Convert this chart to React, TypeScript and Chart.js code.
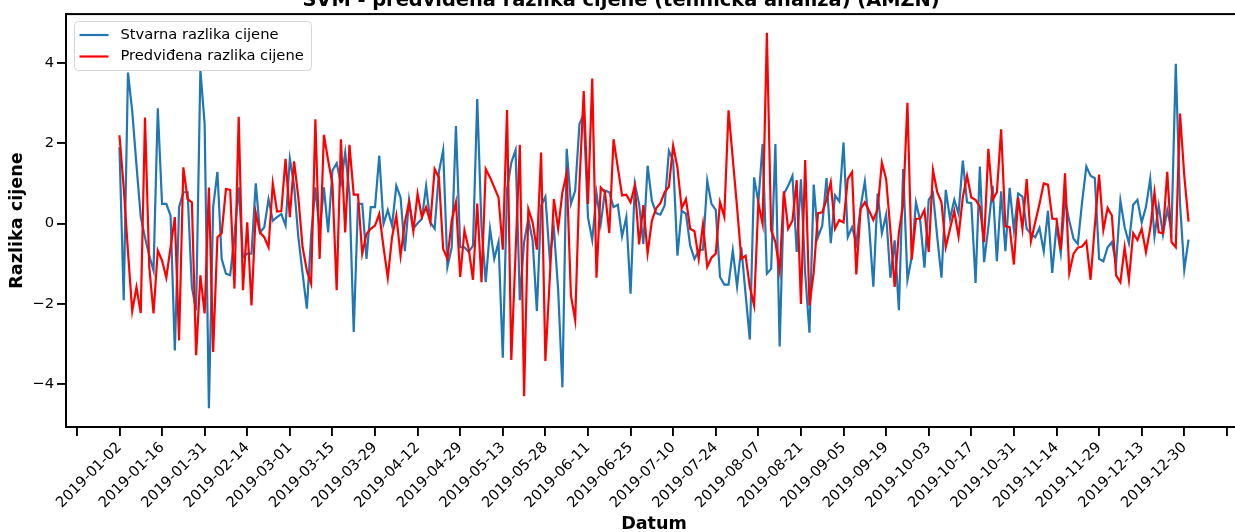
import React, { useEffect, useRef } from 'react';
import { Chart, registerables } from 'chart.js';

Chart.register(...registerables);

const titleText = 'SVM - predviđena razlika cijene (tehnička analiza) (AMZN)';
const xAxisTitle = 'Datum';
const yAxisTitle = 'Razlika cijene';
const actualLabel = 'Stvarna razlika cijene';
const predictedLabel = 'Predviđena razlika cijene';

const xTickPositions = [-10, 0, 10, 20, 30, 40, 50, 60, 70, 80, 90, 100, 110, 120, 130, 140, 150, 160, 170, 180, 190, 200, 210, 220, 230, 240, 250, 260];
const xTickLabels = [
  '2019-01-02', '2019-01-16', '2019-01-31', '2019-02-14', '2019-03-01', '2019-03-15',
  '2019-03-29', '2019-04-12', '2019-04-29', '2019-05-13', '2019-05-28', '2019-06-11',
  '2019-06-25', '2019-07-10', '2019-07-24', '2019-08-07', '2019-08-21', '2019-09-05',
  '2019-09-19', '2019-10-03', '2019-10-17', '2019-10-31', '2019-11-14', '2019-11-29',
  '2019-12-13', '2019-12-30',
];
const yTickValues = [-4, -2, 0, 2, 4];

const actualValues = [
  1.90, -1.91, 3.76, 2.80, 1.45, 0.16, -0.35, -0.80, -1.17, 2.87,
  0.49, 0.49, 0.20, -3.16, 0.41, 0.78, 0.78, -1.58, -2.16, 3.82,
  2.48, -4.60, 0.41, 1.29, -0.88, -1.25, -1.29, -0.30, 0.90, -0.84,
  -0.75, -0.75, 1.00, -0.22, -0.09, 0.61, 0.07, 0.16, 0.24, -0.05,
  1.61, 0.95, -0.34, -1.25, -2.12, -0.30, 0.90, -0.20, 0.90, -0.22,
  1.32, 1.50, 0.99, 1.77, 0.74, -2.70, 0.49, 0.49, -0.88, 0.41,
  0.41, 1.69, -0.01, 0.34, -0.05, 0.94, 0.65, -0.69, 0.59, -0.13,
  0.01, 0.12, 0.93, 0.03, -0.13, 1.28, 1.83, -1.08, -0.60, 2.43,
  -0.59, -0.59, -0.71, -0.55, 3.10, -0.09, -1.46, -0.13, -0.88, -0.46,
  -3.34, 0.86, 1.52, 1.83, -1.91, -0.46, 0.12, -0.42, -2.18, 0.45,
  0.67, -0.84, -0.13, -1.66, -4.08, 1.86, 0.49, 0.82, 2.48, 2.72,
  0.16, -0.41, 0.75, -0.01, 0.82, 0.78, 0.41, 0.47, -0.32, 0.16,
  -1.75, 0.99, 0.49, -0.51, 1.44, 0.57, 0.26, 0.22, 0.45, 1.81,
  1.57, -0.80, 0.32, 0.24, -0.55, -0.88, -0.67, -0.65, 1.07, 0.49,
  0.34, -1.33, -1.52, -1.52, -0.67, -1.57, -0.59, -1.75, -2.89, 1.15,
  0.53, 1.98, -1.25, -1.13, 1.98, -3.06, 0.74, 0.94, 1.19, -0.71,
  1.10, -1.25, -2.72, 0.97, -0.34, -0.05, 1.13, -0.49, 0.70, 0.55,
  2.02, -0.34, -0.09, -0.50, 0.41, 1.05, -0.05, -1.57, 0.75, -0.24,
  0.22, -1.35, -0.42, -2.16, 1.36, -1.40, -0.84, 0.53, 0.07, -1.10,
  0.59, 0.75, -0.34, -1.35, 0.84, 0.12, 0.59, 0.24, 1.57, 0.53,
  0.51, -1.48, 1.42, -0.96, -0.09, 0.94, -0.94, 0.80, -0.69, 0.89,
  -0.16, 0.75, 0.67, -0.13, -0.26, -0.34, -0.11, -0.69, 0.32, -1.23,
  -0.05, -0.74, 0.59, 0.07, -0.38, -0.51, 0.53, 1.42, 1.19, 1.13,
  -0.88, -0.94, -0.59, -0.46, -0.99, 0.57, -0.09, -0.49, 0.47, 0.59,
  0.03, 0.41, 1.11, -0.32, 0.45, -0.28, 0.34, -0.17, 3.98, 0.49,
  -1.15, -0.40,
];

const predictedValues = [
  2.20, 0.90, -0.70, -2.18, -1.58, -2.23, 2.64, -1.08, -2.24, -0.67,
  -0.92, -1.35, -0.59, 0.16, -2.91, 1.40, 0.61, 0.53, -3.28, -1.29,
  -2.24, 0.90, -3.20, -0.34, -0.24, 0.86, 0.84, -1.62, 2.66, -1.66,
  0.03, -2.04, 0.27, -0.22, -0.34, -0.59, 1.00, 0.30, 0.31, 1.61,
  0.16, 1.55, 0.65, -0.59, -1.17, -1.50, 2.60, -0.88, 2.21, 1.57,
  0.99, -1.66, 2.10, -0.22, 1.96, 0.72, 0.72, -0.75, -0.26, -0.13,
  -0.05, 0.24, -0.59, -1.35, -0.34, 0.20, -0.80, 0.03, 0.53, -0.19,
  0.74, 0.16, 0.41, 0.03, 1.36, 1.15, -0.63, -0.88, 0.07, 0.53,
  -1.33, -0.17, -0.63, -1.40, 0.50, -1.46, 1.36, 1.15, 0.90, 0.65,
  -0.65, 2.83, -3.40, -0.72, 1.96, -4.30, 0.36, 0.03, -0.65, 1.77,
  -3.42, -1.42, 0.61, -0.13, 0.78, 1.25, -1.79, -2.41, 0.99, 3.30,
  0.49, 3.61, -1.35, 0.90, 0.78, -0.24, 2.10, 1.40, 0.70, 0.72,
  0.53, 0.94, -0.52, 0.46, -0.74, 0.07, 0.38, 0.51, 0.78, 0.92,
  1.94, 1.40, 0.38, 0.61, -0.13, -0.19, -0.88, -0.02, -1.08, -0.85,
  -0.75, 0.53, 0.17, 2.82, 1.61, 0.41, -0.88, -0.80, -1.58, -2.04,
  0.51, -0.01, 4.75, -0.16, -0.46, -1.17, 0.80, -0.13, 0.07, 1.08,
  -2.00, 1.58, -2.04, -1.21, 0.26, 0.28, 0.59, 1.03, -0.13, 0.09,
  0.03, 1.11, 1.28, -1.27, 0.36, 0.53, 0.32, 0.09, 0.36, 1.52,
  1.11, -0.17, -1.58, -0.22, 0.49, 3.01, -0.90, 0.12, 0.12, 0.34,
  -0.71, 1.33, 0.78, 0.53, -0.59, -0.13, 0.31, -0.32, 0.65, 1.19,
  0.65, 0.59, 0.42, -0.46, 1.86, 0.59, 0.78, 2.35, -0.07, -0.09,
  -1.02, 0.65, -0.13, 1.11, -0.44, 0.03, 0.49, 1.00, 0.97, 0.12,
  0.12, -0.65, 1.25, -1.23, -0.75, -0.60, -0.57, -0.44, -1.40, -0.05,
  1.22, -0.16, 0.39, 0.20, -1.29, -1.46, -0.59, -1.40, -0.24, -0.41,
  -0.13, -0.71, -0.13, 0.78, -0.22, -0.24, 1.29, -0.46, -0.59, 2.74,
  1.19, 0.05,
];

const FONT = '"DejaVu Sans", "Liberation Sans", sans-serif';
const BLUE = '#1f77b4';
const RED = '#ff0000';

const framePlugin = {
  id: 'axesFrame',
  afterDatasetsDraw(chart: any) {
    const { ctx, chartArea: a } = chart;
    ctx.save();
    ctx.strokeStyle = '#000';
    ctx.lineWidth = 2;
    ctx.strokeRect(a.left, a.top, a.right - a.left, a.bottom - a.top);
    ctx.restore();
  },
};

const legendPlugin = {
  id: 'boxLegend',
  afterDraw(chart: any) {
    const { ctx, chartArea: a } = chart;
    const x0 = a.left + 8.5;
    const y0 = Math.round(a.top) + 7.5;
    const w = 237;
    const h = 49;
    const r = 4;
    ctx.save();
    ctx.beginPath();
    ctx.moveTo(x0 + r, y0);
    ctx.lineTo(x0 + w - r, y0);
    ctx.arcTo(x0 + w, y0, x0 + w, y0 + r, r);
    ctx.lineTo(x0 + w, y0 + h - r);
    ctx.arcTo(x0 + w, y0 + h, x0 + w - r, y0 + h, r);
    ctx.lineTo(x0 + r, y0 + h);
    ctx.arcTo(x0, y0 + h, x0, y0 + h - r, r);
    ctx.lineTo(x0, y0 + r);
    ctx.arcTo(x0, y0, x0 + r, y0, r);
    ctx.closePath();
    ctx.fillStyle = 'rgba(255,255,255,0.8)';
    ctx.fill();
    ctx.strokeStyle = '#d6d6d6';
    ctx.lineWidth = 1;
    ctx.stroke();
    chart.data.datasets.forEach((ds: any, i: number) => {
      const cy = y0 + 13.5 + i * 21.5;
      ctx.strokeStyle = ds.borderColor;
      ctx.lineWidth = 2.2;
      ctx.beginPath();
      ctx.moveTo(x0 + 5, cy);
      ctx.lineTo(x0 + 34, cy);
      ctx.stroke();
      ctx.fillStyle = '#000';
      ctx.font = `14.7px ${FONT}`;
      ctx.textBaseline = 'middle';
      ctx.textAlign = 'left';
      ctx.fillText(ds.label, x0 + 46, cy);
    });
    ctx.restore();
  },
};

export default function App() {
  const canvasRef = useRef<HTMLCanvasElement | null>(null);

  useEffect(() => {
    document.body.style.margin = '0';
    const canvas = canvasRef.current;
    if (!canvas) return;
    const n = actualValues.length;
    const all = actualValues.concat(predictedValues);
    const dMin = Math.min(...all);
    const dMax = Math.max(...all);
    const yPad = (dMax - dMin) * 0.05;

    const chart = new Chart(canvas, {
      type: 'line',
      data: {
        datasets: [
          {
            label: actualLabel,
            data: actualValues.map((v, i) => ({ x: i, y: v })),
            borderColor: BLUE,
            backgroundColor: BLUE,
            borderWidth: 2.2,
            pointRadius: 0,
            tension: 0,
            order: 1,
          },
          {
            label: predictedLabel,
            data: predictedValues.map((v, i) => ({ x: i, y: v })),
            borderColor: RED,
            backgroundColor: RED,
            borderWidth: 2.2,
            pointRadius: 0,
            tension: 0,
            order: 0,
          },
        ],
      },
      options: {
        animation: false,
        responsive: false,
        devicePixelRatio: 1,
        layout: { padding: { left: 0, right: 1, top: 0, bottom: 0 } },
        plugins: {
          legend: { display: false },
          tooltip: { enabled: false },
          title: {
            display: true,
            text: titleText,
            color: '#000',
            font: { family: FONT, size: 19.4, weight: 'bold', lineHeight: 1.2 },
            padding: { top: -11, bottom: 1.8 },
          },
        },
        scales: {
          x: {
            type: 'linear',
            min: -0.05 * (n - 1),
            max: 1.05 * (n - 1),
            afterBuildTicks: (scale: any) => {
              scale.ticks = xTickPositions.map((v) => ({ value: v }));
            },
            afterFit: (scale: any) => {
              scale.height = 105;
              scale.paddingLeft = 0;
              scale.paddingRight = 0;
            },
            ticks: {
              autoSkip: false,
              minRotation: 45,
              maxRotation: 45,
              padding: 3,
              color: '#000',
              font: { family: FONT, size: 14.7 },
              callback: (value: any) => {
                const k = Math.round(Number(value) / 10);
                return Number(value) >= 0 && k < xTickLabels.length ? xTickLabels[k] : '';
              },
            },
            grid: {
              display: true,
              drawOnChartArea: false,
              drawTicks: true,
              tickLength: 9,
              tickWidth: 1.9,
              tickColor: '#000',
              lineWidth: 1.9,
              color: '#000',
            },
            border: { display: false },
            title: {
              display: true,
              text: xAxisTitle,
              color: '#000',
              font: { family: FONT, size: 17.6, weight: 'bold', lineHeight: 1.2 },
              padding: { top: 0, bottom: -2.5 },
            },
          },
          y: {
            type: 'linear',
            min: dMin - yPad,
            max: dMax + yPad,
            afterBuildTicks: (scale: any) => {
              scale.ticks = yTickValues.map((v) => ({ value: v }));
            },
            afterFit: (scale: any) => {
              scale.width = 66;
              scale.paddingTop = 0;
              scale.paddingBottom = 0;
            },
            ticks: {
              padding: 3,
              color: '#000',
              font: { family: FONT, size: 14.7 },
              callback: (value: any) => {
                const v = Number(value);
                return v < 0 ? '\u2212' + Math.abs(v) : String(v);
              },
            },
            grid: {
              display: true,
              drawOnChartArea: false,
              drawTicks: true,
              tickLength: 9,
              tickWidth: 1.9,
              tickColor: '#000',
              lineWidth: 1.9,
              color: '#000',
            },
            border: { display: false },
            title: {
              display: true,
              text: yAxisTitle,
              color: '#000',
              font: { family: FONT, size: 17.6, weight: 'bold', lineHeight: 1.2 },
              padding: { top: 6.4, bottom: 0 },
            },
          },
        },
      },
      plugins: [framePlugin, legendPlugin],
    } as any);

    return () => {
      chart.destroy();
    };
  }, []);

  return (
    <div style={{ width: 1235, height: 532, overflow: 'hidden', position: 'relative', background: '#fff' }}>
      <canvas ref={canvasRef} width={1243} height={532} style={{ display: 'block' }} />
    </div>
  );
}
